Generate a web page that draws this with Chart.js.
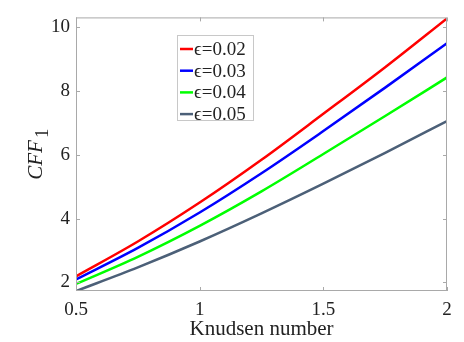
<!DOCTYPE html>
<html>
<head>
<meta charset="utf-8">
<script src="https://cdn.jsdelivr.net/npm/chart.js@4.4.1/dist/chart.umd.min.js"></script>
<style>
  html, body { margin: 0; padding: 0; background: #fff; }
  #wrap { width: 464px; height: 342px; }
</style>
</head>
<body>
<div id="wrap"><canvas id="grafico"></canvas></div>
<script>
// datos
const knudsen = [0.5, 0.75, 1, 1.25, 1.5, 1.75, 2];
const cff002 = [2.19, 3.28, 4.50, 5.84, 7.28, 8.74, 10.27];
const cff003 = [2.09, 3.08, 4.19, 5.42, 6.74, 8.10, 9.49];
const cff004 = [1.95, 2.80, 3.77, 4.85, 6.02, 7.21, 8.42];
const cff005 = [1.73, 2.47, 3.28, 4.16, 5.09, 6.06, 7.05];
const etiquetas = ["\u03f5=0.02", "\u03f5=0.03", "\u03f5=0.04", "\u03f5=0.05"];
const colores = ["#ff0000", "#0000ff", "#00ff00", "#4c6078"];
const ticksX = [0.5, 1, 1.5, 2];
const ticksY = [2, 4, 6, 8, 10];

const serie = (ys) => knudsen.map((x, i) => ({ x: x, y: ys[i] }));
const series = [cff002, cff003, cff004, cff005];

const fuente = "'Liberation Serif', 'Times New Roman', serif";
const gris = "#a9a9a9";

// =========================
// Caja, ticks hacia adentro, leyenda y titulo Y
// =========================
const extras = {
    id: "extras",
    afterDraw(chart) {
        const ctx = chart.ctx;
        const a = chart.chartArea;
        const sx = chart.scales.x, sy = chart.scales.y;
        ctx.save();
        ctx.strokeStyle = gris;
        ctx.lineWidth = 1;
        ctx.strokeRect(a.left + 0.5, a.top + 0.5, a.right - a.left - 1, a.bottom - a.top - 1);
        ctx.beginPath();
        ticksX.forEach(v => {
            const px = Math.round(sx.getPixelForValue(v)) + 0.5;
            ctx.moveTo(px, a.bottom); ctx.lineTo(px, a.bottom - 4);
            ctx.moveTo(px, a.top); ctx.lineTo(px, a.top + 4);
        });
        ticksY.forEach(v => {
            const py = Math.round(sy.getPixelForValue(v)) + 0.5;
            ctx.moveTo(a.left, py); ctx.lineTo(a.left + 4, py);
            ctx.moveTo(a.right, py); ctx.lineTo(a.right - 4, py);
        });
        ctx.stroke();

        // leyenda
        const lx = 177, ly = 35, lw = 76, lh = 85;
        ctx.fillStyle = "#fff";
        ctx.fillRect(lx, ly, lw, lh);
        ctx.strokeStyle = "#c8c8c8";
        ctx.strokeRect(lx + 0.5, ly + 0.5, lw, lh);
        ctx.font = "19px " + fuente;
        ctx.textBaseline = "middle";
        chart.data.datasets.forEach((ds, i) => {
            const y = 49 + i * 21.7;
            ctx.strokeStyle = ds.borderColor;
            ctx.lineWidth = 2.5;
            ctx.beginPath();
            ctx.moveTo(lx + 3, y); ctx.lineTo(lx + 16, y);
            ctx.stroke();
            ctx.fillStyle = "#222";
            ctx.fillText(ds.label, lx + 17, y + 1);
        });

        // titulo eje Y: CFF con subindice 1
        ctx.translate(42, (a.top + a.bottom) / 2);
        ctx.rotate(-Math.PI / 2);
        ctx.fillStyle = "#222";
        ctx.textBaseline = "alphabetic";
        ctx.font = "italic 21px " + fuente;
        const w1 = ctx.measureText("CFF").width;
        ctx.font = "19px " + fuente;
        const w2 = ctx.measureText("1").width;
        const x0 = -(w1 + w2 + 2) / 2;
        ctx.font = "italic 21px " + fuente;
        ctx.fillText("CFF", x0, 0);
        ctx.font = "19px " + fuente;
        ctx.fillText("1", x0 + w1 + 2, 6);
        ctx.restore();
    }
};

new Chart(document.getElementById("grafico"), {
    type: "line",
    data: {
        datasets: series.map((ys, i) => ({
            label: etiquetas[i],
            data: serie(ys),
            borderColor: colores[i],
            backgroundColor: colores[i],
            borderWidth: 2.5,
            pointRadius: 0,
            cubicInterpolationMode: "monotone",
            fill: false
        }))
    },
    options: {
        responsive: true,
        maintainAspectRatio: false,
        animation: false,
        layout: { padding: { top: 11, right: 17, left: 0, bottom: 0 } },
        plugins: { legend: { display: false }, tooltip: { enabled: false } },
        scales: {
            x: {
                type: "linear",
                min: 0.5,
                max: 2,
                afterBuildTicks: (s) => { s.ticks = ticksX.map(v => ({ value: v })); },
                afterFit: (s) => { s.height = 51; },
                grid: { display: false, drawTicks: false },
                border: { display: false },
                ticks: {
                    padding: 8,
                    color: "#222",
                    font: { family: fuente, size: 19 },
                    callback: (v) => String(v)
                },
                title: {
                    display: true,
                    text: "Knudsen number",
                    color: "#222",
                    font: { family: fuente, size: 21 },
                    padding: { top: 0, bottom: 0 }
                }
            },
            y: {
                type: "linear",
                min: 1.73,
                max: 10.3,
                afterBuildTicks: (s) => { s.ticks = ticksY.map(v => ({ value: v })); },
                afterFit: (s) => { s.width = 76; },
                grid: { display: false, drawTicks: false },
                border: { display: false },
                ticks: {
                    padding: 6,
                    color: "#222",
                    font: { family: fuente, size: 19 },
                    callback: (v) => String(v)
                }
            }
        }
    },
    plugins: [extras]
});
</script>
</body>
</html>
